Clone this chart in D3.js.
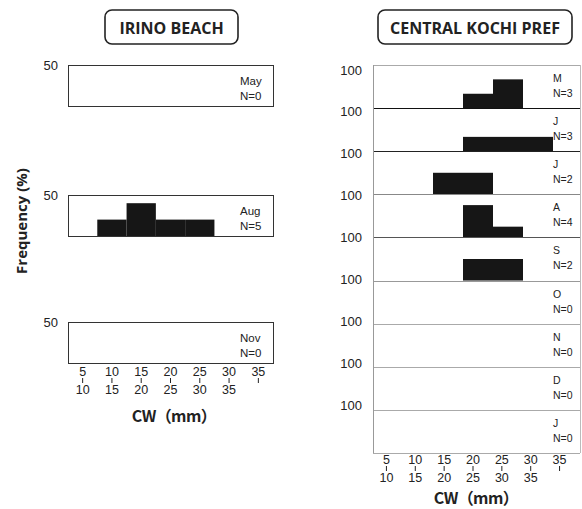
<!DOCTYPE html>
<html><head><meta charset="utf-8">
<script src="https://cdn.jsdelivr.net/npm/d3@7"></script>
<style>body{margin:0;background:#fff}svg{display:block}</style>
</head><body>
<script>
// ---- data ----
const bins = ["5-10","10-15","15-20","20-25","25-30","30-35","35-"];
const tickTop = ["5","10","15","20","25","30","35"];
const tickBottom = ["10","15","20","25","30","35",""];

const irinoMonths = ["May","Aug","Nov"];
const irinoN = [0,5,0];
const irinoMay = [0,0,0,0,0,0,0];
const irinoAug = [0,20,40,20,20,0,0];
const irinoNov = [0,0,0,0,0,0,0];
const irinoMax = 50;

const kochiMonths = ["M","J","J","A","S","O","N","D","J"];
const kochiN = [3,3,2,4,2,0,0,0,0];
const kochiMar = [0,0,0,33.3,66.7,0,0];
const kochiJun = [0,0,0,33.3,33.3,33.3,0];
const kochiJul = [0,0,50,50,0,0,0];
const kochiAug = [0,0,0,75,25,0,0];
const kochiSep = [0,0,0,50,50,0,0];
const kochiOct = [0,0,0,0,0,0,0];
const kochiNov = [0,0,0,0,0,0,0];
const kochiDec = [0,0,0,0,0,0,0];
const kochiJan = [0,0,0,0,0,0,0];
const kochiMax = 100;

const irinoSeries = [irinoMay, irinoAug, irinoNov];
const kochiSeries = [kochiMar,kochiJun,kochiJul,kochiAug,kochiSep,kochiOct,kochiNov,kochiDec,kochiJan];

const W = 582, H = 509;
const svg = d3.select("body").append("svg").attr("width", W).attr("height", H)
  .style("font-family","Liberation Sans, Arial, sans-serif");
svg.append("rect").attr("width",W).attr("height",H).attr("fill","#fff");

// ---- title boxes ----
function titleBox(x0, x1, text) {
  svg.append("rect").attr("x", x0).attr("y", 10).attr("width", x1-x0).attr("height", 34)
    .attr("rx", 7).attr("fill","#fff").attr("stroke","#222").attr("stroke-width",1.6);
  svg.append("text").attr("x",(x0+x1)/2).attr("y",28).attr("text-anchor","middle")
    .attr("dominant-baseline","central").attr("font-family","Open Sans, Noto Sans, sans-serif")
    .attr("font-weight","bold").attr("font-size",16).attr("fill","#222").text(text);
}
titleBox(105, 238, "IRINO BEACH");
titleBox(378, 572, "CENTRAL KOCHI PREF");

// ---- left panels ----
const xL = d3.scaleBand().domain(bins).range([68, 273]).paddingInner(0).paddingOuter(0);
const leftTops = [65, 195, 322];
const panelH = 41;
irinoSeries.forEach((vals, i) => {
  const top = leftTops[i];
  const y = d3.scaleLinear().domain([0, irinoMax]).range([top+panelH, top]);
  const g = svg.append("g");
  g.selectAll("rect.bar").data(vals.map((v,j)=>({v, b:bins[j]})).filter(d=>d.v>0))
    .join("rect").attr("class","bar")
    .attr("x", d=>xL(d.b)).attr("width", xL.bandwidth())
    .attr("y", d=>y(d.v)).attr("height", d=>y(0)-y(d.v)).attr("fill","#161616");
  g.append("rect").attr("x",68.5).attr("y",top+0.5).attr("width",205).attr("height",panelH)
    .attr("fill","none").attr("stroke","#333").attr("stroke-width",1);
  g.append("text").attr("x",58).attr("y",y(irinoMax)).attr("text-anchor","end")
    .attr("dominant-baseline","central").attr("font-size",13).attr("fill","#222").text(irinoMax);
  g.append("text").attr("x",240).attr("y",top+16).attr("dominant-baseline","central")
    .attr("font-size",11.5).attr("fill","#222").text(irinoMonths[i]);
  g.append("text").attr("x",240).attr("y",top+31).attr("dominant-baseline","central")
    .attr("font-size",11.5).attr("fill","#222").text("N=" + irinoN[i]);
});

// ---- right panels ----
const xR = d3.scaleBand().domain(bins).range([373, 583]);
const xRaxis = d3.scaleBand().domain(bins).range([372, 574]);
const rowY = d3.scaleBand().domain(d3.range(kochiMonths.length)).range([65, 453]);
const labY = d3.scaleLinear().domain([0, kochiMonths.length-1]).range([70, 405]);
const rowColors = ["#111","#222","#888","#555","#999","#aaa","#aaa","#aaa","#aaa"];
const gR = svg.append("g");
kochiSeries.forEach((vals, i) => {
  const top = rowY(i), h = rowY.bandwidth();
  const y = d3.scaleLinear().domain([0, kochiMax]).range([top+h, top]);
  gR.selectAll(null).data(vals.map((v,j)=>({v, b:bins[j]})).filter(d=>d.v>0))
    .join("rect").attr("x", d=>xR(d.b)).attr("width", xR.bandwidth())
    .attr("y", d=>y(d.v)).attr("height", d=>y(0)-y(d.v)).attr("fill","#161616");
  gR.append("line").attr("x1",373).attr("x2",580).attr("y1",Math.round(top+h)+0.5).attr("y2",Math.round(top+h)+0.5)
    .attr("stroke",rowColors[i]).attr("stroke-width",1);
  gR.append("text").attr("x",362).attr("y",labY(i)).attr("text-anchor","end")
    .attr("dominant-baseline","central").attr("font-size",13).attr("fill","#222").text(kochiMax);
  gR.append("text").attr("x",553).attr("y",top+13).attr("dominant-baseline","central")
    .attr("font-size",10.5).attr("fill","#222").text(kochiMonths[i]);
  gR.append("text").attr("x",553).attr("y",top+28).attr("dominant-baseline","central")
    .attr("font-size",10.5).attr("fill","#222").text("N=" + kochiN[i]);
});
gR.append("line").attr("x1",373).attr("x2",580).attr("y1",65.5).attr("y2",65.5).attr("stroke","#aaa");
gR.append("line").attr("x1",373.5).attr("x2",373.5).attr("y1",65).attr("y2",453).attr("stroke","#999");
gR.append("line").attr("x1",580.5).attr("x2",580.5).attr("y1",65).attr("y2",453).attr("stroke","#bbb");

// ---- x axes (two-line bin labels) ----
function binAxis(scale, yTop, cx, cy) {
  const g = svg.append("g").attr("font-size",12.5).attr("fill","#222");
  bins.forEach((b,j) => {
    const x = scale(b) + scale.bandwidth()/2;
    g.append("text").attr("x",x).attr("y",yTop).attr("text-anchor","middle")
      .attr("dominant-baseline","central").text(tickTop[j]);
    g.append("line").attr("x1",x).attr("x2",x).attr("y1",yTop+6).attr("y2",yTop+11)
      .attr("stroke","#222").attr("stroke-width",1);
    if (tickBottom[j]) g.append("text").attr("x",x).attr("y",yTop+18).attr("text-anchor","middle")
      .attr("dominant-baseline","central").text(tickBottom[j]);
  });
  svg.append("text").attr("x",cx).attr("y",cy).attr("text-anchor","middle")
    .attr("dominant-baseline","central").attr("font-family","Noto Sans CJK JP, sans-serif")
    .attr("font-weight","bold").attr("font-size",16).attr("letter-spacing",-0.6)
    .attr("fill","#222").text("CW（mm）");
}
binAxis(xL, 372, 174, 415);
binAxis(xRaxis, 460, 476, 497);

// ---- y axis title ----
svg.append("text").attr("transform","translate(21,221) rotate(-90)").attr("text-anchor","middle")
  .attr("dominant-baseline","central").attr("font-family","Open Sans, Noto Sans, sans-serif")
  .attr("font-weight","bold").attr("font-size",15).attr("fill","#222").text("Frequency (%)");
</script>
</body></html>
